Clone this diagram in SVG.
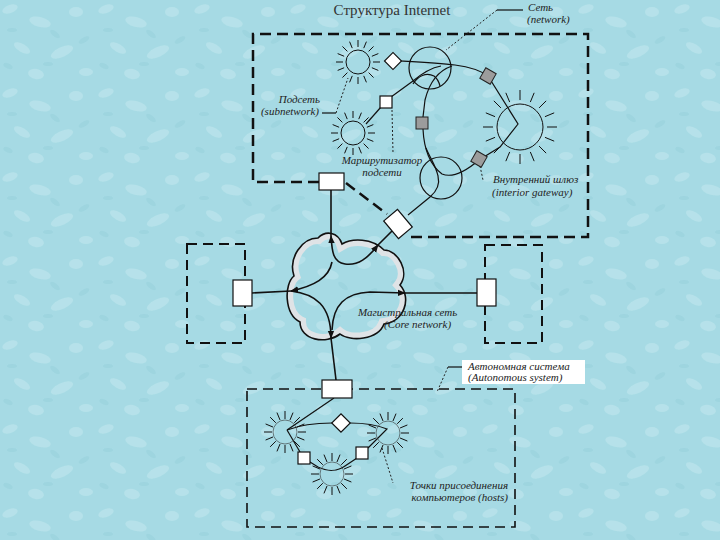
<svg xmlns="http://www.w3.org/2000/svg" xmlns:xlink="http://www.w3.org/1999/xlink" width="720" height="540" viewBox="0 0 720 540">
<style>
.ln{fill:none;stroke:#111;stroke-width:1.2}
.cl{fill:none;stroke:#111;stroke-width:1.6}
.dot{fill:none;stroke:#222;stroke-width:1;stroke-dasharray:2 2}
.box{fill:#fff;stroke:#111;stroke-width:1.2}
.gray{fill:#9c9c9c;stroke:#222;stroke-width:1}
.bnd{fill:none;stroke:#111;stroke-width:2.5;stroke-dasharray:11 6}
.bnd2{fill:none;stroke:#111;stroke-width:2;stroke-dasharray:10 6}
.bnd3{fill:none;stroke:#111;stroke-width:1.6;stroke-dasharray:10 6}
.t{font-family:"Liberation Serif",serif;font-style:italic;font-size:11px;fill:#222}
.ttl{font-family:"Liberation Serif",serif;font-size:15px;fill:#333}
.hair{fill:none;stroke:#111;stroke-width:1}
.lt{fill:#c2e8ee}
.dk{fill:#8ecbd7}
</style>
<defs>
<pattern id="bg" width="96" height="84" patternUnits="userSpaceOnUse">
<rect width="96" height="84" fill="#a6dae4"/>
<g opacity="0.55">
<ellipse class="lt" cx="10" cy="9" rx="8" ry="4" transform="rotate(-20 10 9)"/>
<ellipse class="lt" cx="40" cy="22" rx="11" ry="5" transform="rotate(15 40 22)"/>
<ellipse class="lt" cx="76" cy="12" rx="7" ry="5"/>
<ellipse class="lt" cx="22" cy="48" rx="9" ry="4" transform="rotate(30 22 48)"/>
<ellipse class="lt" cx="62" cy="52" rx="12" ry="5" transform="rotate(-25 62 52)"/>
<ellipse class="lt" cx="86" cy="72" rx="7" ry="4"/>
<ellipse class="lt" cx="36" cy="74" rx="8" ry="5" transform="rotate(10 36 74)"/>
</g>
<g opacity="0.35">
<ellipse class="dk" cx="55" cy="34" rx="6" ry="2.5" transform="rotate(40 55 34)"/>
<ellipse class="dk" cx="12" cy="30" rx="5" ry="2"/>
<ellipse class="dk" cx="84" cy="40" rx="6" ry="2.5" transform="rotate(-30 84 40)"/>
<ellipse class="dk" cx="48" cy="64" rx="5" ry="2"/>
<ellipse class="dk" cx="8" cy="66" rx="5" ry="2.5" transform="rotate(25 8 66)"/>
</g>
</pattern>
<marker id="arr" viewBox="0 0 10 10" refX="9" refY="5" markerWidth="8" markerHeight="8" markerUnits="userSpaceOnUse" orient="auto-start-reverse">
<path d="M0,1 L10,5 L0,9 Z" fill="#111"/>
</marker>
<g id="sub">
<circle r="12" class="hair"/>
<path class="hair" d="M15,0L22,0M13.86,5.74L20.33,8.42M10.61,10.61L15.56,15.56M5.74,13.86L8.42,20.33M0,15L0,22M-5.74,13.86L-8.42,20.33M-10.61,10.61L-15.56,15.56M-13.86,5.74L-20.33,8.42M-15,0L-22,0M-13.86,-5.74L-20.33,-8.42M-10.61,-10.61L-15.56,-15.56M-5.74,-13.86L-8.42,-20.33M0,-15L0,-22M5.74,-13.86L8.42,-20.33M10.61,-10.61L15.56,-15.56M13.86,-5.74L20.33,-8.42"/>
</g>
<g id="subB">
<circle r="12" fill="none" stroke="#333" stroke-width="0.6"/>
<path class="hair" d="M13,0L21,0M12.01,4.97L19.4,8.04M9.19,9.19L14.85,14.85M4.97,12.01L8.04,19.4M0,13L0,21M-4.97,12.01L-8.04,19.4M-9.19,9.19L-14.85,14.85M-12.01,4.97L-19.4,8.04M-13,0L-21,0M-12.01,-4.97L-19.4,-8.04M-9.19,-9.19L-14.85,-14.85M-4.97,-12.01L-8.04,-19.4M0,-13L0,-21M4.97,-12.01L8.04,-19.4M9.19,-9.19L14.85,-14.85M12.01,-4.97L19.4,-8.04"/>
</g>
<clipPath id="cloudClip">
<path d="M318,238 C326,230 338,232 342,244 C352,238 372,238 384,250 C398,250 410,272 400,285 C412,298 404,322 384,324 C378,340 350,342 340,334 C326,345 300,340 300,322 C284,314 284,284 294,276 C288,258 302,238 318,238 Z"/>
</clipPath>
</defs>

<rect width="720" height="540" fill="url(#bg)"/>

<!-- boundaries -->
<g id="boundaries">
<path class="bnd" d="M319,182 L253,182 L253,34 L588,34 L588,237 L407,237"/>
<rect class="bnd2" x="187" y="244" width="58" height="99"/>
<rect class="bnd2" x="485" y="245" width="57" height="98"/>
<rect class="bnd3" x="247" y="389" width="268" height="138"/>
</g>

<!-- core cloud -->
<g id="core-cloud">
<path clip-path="url(#cloudClip)" d="M318,238 C326,230 338,232 342,244 C352,238 372,238 384,250 C398,250 410,272 400,285 C412,298 404,322 384,324 C378,340 350,342 340,334 C326,345 300,340 300,322 C284,314 284,284 294,276 C288,258 302,238 318,238 Z" fill="none" stroke="#dfe3e6" stroke-width="12"/>
<path class="cl" d="M318,238 C326,230 338,232 342,244 C352,238 372,238 384,250 C398,250 410,272 400,285 C412,298 404,322 384,324 C378,340 350,342 340,334 C326,345 300,340 300,322 C284,314 284,284 294,276 C288,258 302,238 318,238 Z"/>
</g>

<!-- connectors -->
<g id="connectors">
<path class="cl" d="M331,236 C332,252 333,262 345,264 C358,266 368,258 378,245" marker-start="url(#arr)" marker-end="url(#arr)"/>
<path class="cl" d="M332,262 C329,278 314,286 291,291" marker-end="url(#arr)"/>
<path class="cl" d="M291,291 C315,294 331,305 331,338" marker-end="url(#arr)"/>
<path class="cl" d="M332,330 C333,305 345,293 370,292 L405,293" marker-end="url(#arr)"/>
<path class="cl" d="M331,190 L331,236"/>
<path class="cl" d="M378,245 L392,231"/>
<path class="cl" d="M252,293 L291,291"/>
<path class="cl" d="M405,293 L477,293"/>
<path class="cl" d="M331,338 L336,380"/>
<path class="bnd" d="M346,183 L387,214" stroke-dasharray="9 5"/>

<circle class="ln" cx="430" cy="68" r="21"/>
<circle class="ln" cx="441" cy="178" r="21"/>
<path class="ln" d="M401,61 C420,62 440,63 455,65 C470,67 480,70 488,76"/>
<path class="ln" d="M366,124 L381,107"/>
<path class="ln" d="M391,97 L413,81 C420,75 430,68 441,66"/>
<path class="ln" d="M413,84 C418,76 426,72 434,76 C438,79 439,82 440,86"/>
<path class="ln" d="M452,66 C440,70 430,80 425,100 L423,117"/>
<path class="ln" d="M423,129 C424,150 430,165 442,174 C452,178 465,172 479,160 L500,147 L518,124 L488,76"/>
<path class="ln" d="M408,215 L430,197 C437,191 440,184 438,176 C436,166 430,158 426,148"/>

<path class="ln" d="M334,398 L287,430"/>
<path class="ln" d="M287,430 C300,425 315,423 332,423"/>
<path class="ln" d="M350,423 C365,423 377,425 387,429 L378,438 L368,448"/>
<path class="ln" d="M357,458 L345,466 C338,471 328,472 318,467 L310,462"/>
<path class="ln" d="M300,452 L287,430"/>

<path class="ln" d="M497,10 L523,10" stroke-width="1"/>
<path class="dot" d="M497,10 L446,50"/>
<path class="ln" d="M322,113 L336,113" stroke-width="1"/>
<path class="dot" d="M336,113 L348,78"/>
<path class="dot" d="M392,110 L393,153"/>
<path class="dot" d="M480,166 L483,180"/>
<path class="ln" d="M448,367 L463,367" stroke-width="1"/>
<path class="dot" d="M448,367 L437,392" stroke-dasharray="4 3"/>
<path class="dot" d="M382,448 L393,483"/>
</g>

<!-- subnets -->
<g id="subnet-1"><use xlink:href="#sub" x="358" y="62"/></g>
<g id="subnet-2"><use xlink:href="#sub" x="353" y="133"/></g>
<g id="subnet-3">
<circle class="hair" cx="520" cy="127" r="23"/>
<path class="hair" transform="translate(520,127)" d="M27,0L37,0M24.94,10.33L34.18,14.16M19.09,19.09L26.16,26.16M10.33,24.94L14.16,34.18M0,27L0,37M-10.33,24.94L-14.16,34.18M-19.09,19.09L-26.16,26.16M-24.94,10.33L-34.18,14.16M-27,0L-37,0M-24.94,-10.33L-34.18,-14.16M-19.09,-19.09L-26.16,-26.16M-10.33,-24.94L-14.16,-34.18M0,-27L0,-37M10.33,-24.94L14.16,-34.18M19.09,-19.09L26.16,-26.16M24.94,-10.33L34.18,-14.16"/>
</g>
<g id="subnet-b1"><use xlink:href="#subB" x="285" y="432"/></g>
<g id="subnet-b2"><use xlink:href="#subB" x="388" y="433"/></g>
<g id="subnet-b3"><use xlink:href="#subB" x="332" y="474"/></g>

<!-- routers / gateways -->
<g id="diamond-top"><rect class="box" x="-6" y="-6" width="12" height="12" transform="translate(393,61) rotate(45)"/></g>
<g id="router-sub"><rect class="box" x="380" y="96" width="12" height="12"/></g>
<g id="gw-1"><rect class="gray" x="-6" y="-6" width="12" height="12" transform="translate(488,76) rotate(30)"/></g>
<g id="gw-2"><rect class="gray" x="416" y="117" width="12" height="12"/></g>
<g id="gw-3"><rect class="gray" x="-6" y="-6" width="12" height="12" transform="translate(479,159) rotate(30)"/></g>
<g id="router-top"><rect class="box" x="319" y="173" width="25" height="17"/></g>
<g id="gateway-core"><rect class="box" x="-11.5" y="-9" width="23" height="18" transform="translate(398,224) rotate(50)"/></g>
<g id="router-left"><rect class="box" x="233" y="280" width="19" height="26"/></g>
<g id="router-right"><rect class="box" x="477" y="279" width="19" height="27"/></g>
<g id="router-bottom"><rect class="box" x="322" y="380" width="30" height="18"/></g>
<g id="diamond-bottom"><rect class="box" x="-6.5" y="-6.5" width="13" height="13" transform="translate(341,423) rotate(45)"/></g>
<g id="sq-b1"><rect class="box" x="298" y="452" width="12" height="12"/></g>
<g id="sq-b2"><rect class="box" x="356" y="447" width="12" height="12"/></g>

<!-- labels -->
<g id="labels">
<text class="ttl" x="392" y="15" text-anchor="middle">Структура Internet</text>
<text class="t" x="528" y="11">Сеть</text>
<text class="t" x="527" y="23">(network)</text>
<text class="t" x="320" y="103" text-anchor="end">Подсеть</text>
<text class="t" x="319" y="115" text-anchor="end">(subnetwork)</text>
<text class="t" x="382" y="164" text-anchor="middle">Маршрутизатор</text>
<text class="t" x="382" y="176" text-anchor="middle">подсети</text>
<text class="t" x="493" y="183">Внутренний шлюз</text>
<text class="t" x="492" y="196">(interior gateway)</text>
<text class="t" x="358" y="316">Магистральная сеть</text>
<text class="t" x="384" y="328">(Core network)</text>
<rect x="462" y="360" width="123" height="24" fill="#fff"/>
<text class="t" x="468" y="370" font-size="10">Автономная система</text>
<text class="t" x="468" y="381" font-size="10">(Autonomous system)</text>
<text class="t" x="508" y="489" text-anchor="end">Точки присоединения</text>
<text class="t" x="508" y="501" text-anchor="end">компьютеров (hosts)</text>
</g>
</svg>
